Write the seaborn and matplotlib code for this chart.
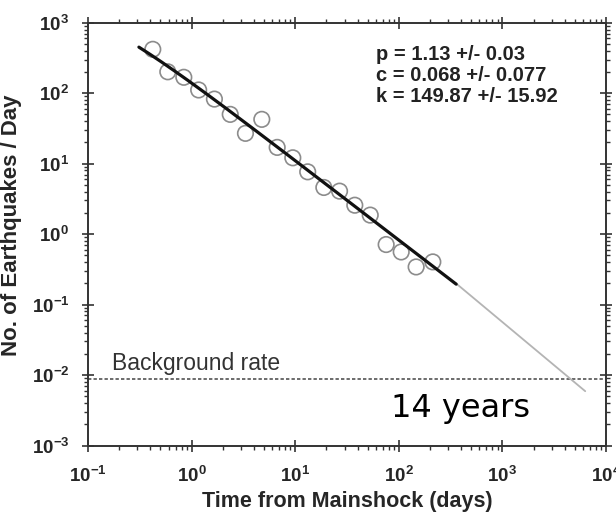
import numpy as np
import pandas as pd
import matplotlib
matplotlib.use("Agg")
import matplotlib.pyplot as plt
import matplotlib.ticker as mticker
import seaborn as sns

# Observed aftershock rates (days after mainshock, events per day)
days = [0.422, 0.589, 0.841, 1.17, 1.66, 2.36, 3.31, 4.76, 6.70, 9.48,
        13.2, 18.9, 26.8, 37.6, 53.0, 75.5, 105.5, 147.0, 213.0]
rate = [419, 201, 168, 111, 82.4, 50.0, 26.9, 42.5, 17.0, 12.1,
        7.65, 4.59, 4.07, 2.57, 1.86, 0.711, 0.558, 0.342, 0.403]

# Modified Omori law fit parameters
p_fit, p_err = 1.13, 0.03
c_fit, c_err = 0.068, 0.077
k_fit, k_err = 149.87, 15.92
fit_range = [0.31, 358.0]

# Extrapolated decay beyond the data
extrap_days = [358.0, 6300.0]
extrap_rate = [0.199, 0.0059]

background_rate = 0.0088
x_limits = [1e-1, 1e4]
y_limits = [1e-3, 1e3]

sns.set_style("ticks")
plt.rcParams["font.family"] = ["Liberation Sans", "DejaVu Sans"]
plt.rcParams["mathtext.fontset"] = "custom"
plt.rcParams["mathtext.rm"] = "Liberation Sans"
plt.rcParams["mathtext.bf"] = "Liberation Sans:bold"

fig = plt.figure(figsize=(6.16, 5.14), dpi=100)
ax = fig.add_axes([88 / 616, 1 - 445.5 / 514, (606 - 88) / 616, (445.5 - 22.7) / 514])

t_fit = np.logspace(np.log10(fit_range[0]), np.log10(fit_range[1]), 200)
fit_df = pd.DataFrame({"t": t_fit, "n": k_fit / (c_fit + t_fit) ** p_fit})
ext_df = pd.DataFrame({"t": extrap_days, "n": extrap_rate})
obs_df = pd.DataFrame({"t": days, "n": rate})

ax.axhline(background_rate, color="#444444", lw=1.1, ls=(0, (2.2, 1.4)), zorder=1)
sns.lineplot(data=ext_df, x="t", y="n", ax=ax, color="#b4b4b4", lw=1.3, zorder=2)
sns.scatterplot(data=obs_df, x="t", y="n", ax=ax, marker="o", s=125,
                facecolor="none", edgecolor="#8c8c8c", linewidth=1.2, zorder=3)
sns.lineplot(data=fit_df, x="t", y="n", ax=ax, color="#111111", lw=2.3, zorder=4)

ax.set_xscale("log")
ax.set_yscale("log")
ax.set_xlim(x_limits)
ax.set_ylim(y_limits)

def pow_label(v, pos):
    e = int(round(np.log10(v)))
    return r"$\mathbf{10^{%d}}$" % e

for axis in (ax.xaxis, ax.yaxis):
    axis.set_major_locator(mticker.LogLocator(base=10, numticks=10))
    axis.set_minor_locator(mticker.LogLocator(base=10, subs=np.arange(2, 10), numticks=10))
    axis.set_major_formatter(mticker.FuncFormatter(pow_label))
    axis.set_minor_formatter(mticker.NullFormatter())

ax.tick_params(which="major", direction="inout", length=9, width=1.2, color="#333333",
               labelsize=13.5, top=True, right=True)
ax.tick_params(axis="y", which="major", pad=9)
ax.tick_params(axis="x", which="major", pad=10)
ax.tick_params(which="minor", direction="out", length=3, width=1.0, color="#333333",
               top=True, right=True)
for s in ax.spines.values():
    s.set_linewidth(1.4)
    s.set_color("#333333")

ax.set_xlabel("Time from Mainshock (days)", fontsize=15.5, fontweight="bold", labelpad=4)
ax.set_ylabel("No. of Earthquakes / Day", fontsize=16, fontweight="bold")
ax.yaxis.set_label_coords(-0.128, 0.522)

stats = [f"p = {p_fit:.2f} +/- {p_err:.2f}",
         f"c = {c_fit:.3f} +/- {c_err:.3f}",
         f"k = {k_fit:.2f} +/- {k_err:.2f}"]
for i, line in enumerate(stats):
    ax.text((376 - 88) / 518, 1 - (55 + 21 * i - 22.7) / 423.3, line,
            transform=ax.transAxes, fontsize=14.5, fontweight="bold",
            color="#222222", va="center", ha="left")

ax.text(0.172, 0.0116, "Background rate", fontsize=16.5, color="#333333",
        ha="left", va="baseline")
ax.text(84.5, 0.0025, "14 years", fontsize=23, color="black",
        family=["DejaVu Sans"], ha="left", va="baseline")

fig.savefig("out.png", dpi=100, facecolor="white")
